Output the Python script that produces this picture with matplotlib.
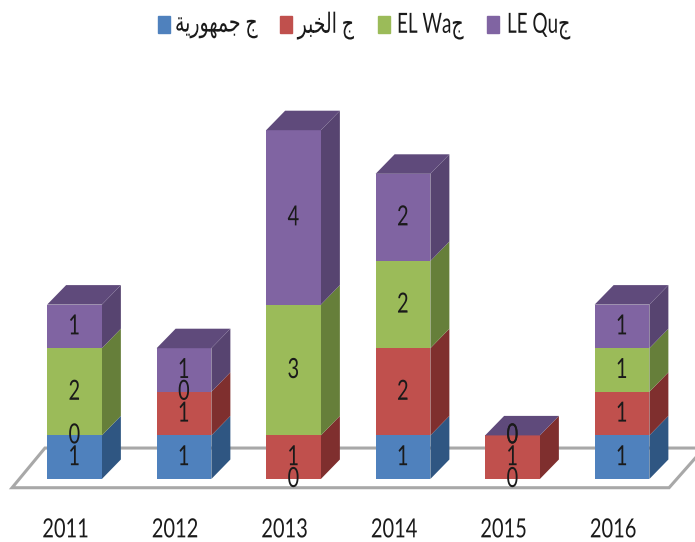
import numpy as np
import matplotlib
matplotlib.use('Agg')
import matplotlib.pyplot as plt
from matplotlib.patches import Polygon, Rectangle
from matplotlib.patheffects import AbstractPathEffect
from matplotlib.transforms import Affine2D

plt.rcParams['font.family'] = ['Lato', 'Liberation Sans', 'DejaVu Sans']

years = ['2011', '2012', '2013', '2014', '2015', '2016']
# arabic written in visual order with presentation forms, matplotlib does no shaping
series_names = ['\ufe94\ufef3\ufead\ufeee\ufeec\ufee4\ufe9f \ufe9d',
                '\ufeae\ufe92\ufea8\ufedf\ufe8d \ufe9d',
                'EL Wa\ufe9d',
                'LE Qu\ufe9d']
jomhouria = [1, 1, 0, 1, 0, 1]
khabar = [0, 1, 1, 2, 1, 1]
el_watan = [2, 0, 3, 2, 0, 1]
le_quotidien = [1, 1, 4, 2, 0, 1]

front_colors = ['#4F81BD', '#C0504D', '#9BBB59', '#8064A2']
side_colors = ['#2F5682', '#7F2F2E', '#667F3A', '#574470']
top_color = '#5F4A7B'
floor_color = '#A8A8A8'
text_color = '#1a1a1a'


class Condensed(AbstractPathEffect):
    '''squeeze a text sideways, matplotlib has no narrow face for it'''
    def __init__(self, sx, anchor='center'):
        super().__init__()
        self.sx = sx
        self.anchor = anchor

    def draw_path(self, renderer, gc, tpath, affine, rgbFace=None):
        xs = tpath.vertices[:, 0]
        if self.anchor == 'left':
            cx = xs.min()
        else:
            cx = (xs.min() + xs.max()) / 2
        squeeze = Affine2D().translate(-cx, 0).scale(self.sx, 1).translate(cx, 0)
        renderer.draw_path(gc, tpath, squeeze + affine, rgbFace)


fig = plt.figure(figsize=(6.95, 5.42), dpi=100)
# the axes stop above the year labels, 109.5 px per year and 43.6 px per unit
ax = fig.add_axes([0, 42 / 542, 1, 500 / 542])
ax.set_xlim(-74.5 / 109.5, (695 - 74.5) / 109.5)
ax.set_ylim(-21 / 43.6, 479 / 43.6)

bar_w = 0.5
dx = 19 / 109.5
dy = 19.5 / 43.6

# floor of the 3d chart, behind the bars
floor = Polygon([(-0.57, -0.2), (5.43, -0.2), (5.75, 0.71), (-0.27, 0.71)], closed=True,
                facecolor='white', edgecolor=floor_color, linewidth=2.2, zorder=1)
ax.add_patch(floor)

x = np.arange(len(years))
bottom = np.zeros(len(years))
all_series = [jomhouria, khabar, el_watan, le_quotidien]
for s, values in enumerate(all_series):
    values = np.array(values, dtype=float)
    for i in x:
        l = i - bar_w / 2
        r = i + bar_w / 2
        y0 = bottom[i]
        y1 = y0 + values[i]
        if values[i] > 0:
            ax.add_patch(Polygon([(r, y0), (r + dx, y0 + dy), (r + dx, y1 + dy), (r, y1)],
                                 closed=True, facecolor=side_colors[s], edgecolor='none', zorder=3 + s))
        ax.bar(i, values[i], bar_w, bottom=y0, color=front_colors[s], zorder=3 + s)
        # only the last series closes the stack
        if s == len(all_series) - 1:
            ax.add_patch(Polygon([(l, y1), (r, y1), (r + dx, y1 + dy), (l + dx, y1 + dy)],
                                 closed=True, facecolor=top_color, edgecolor='none', zorder=3 + s))
    bottom = bottom + values

# value labels go on last, zeros sit on the segment boundary
bottom = np.zeros(len(years))
for values in all_series:
    values = np.array(values, dtype=float)
    for i in x:
        ax.text(i, bottom[i] + values[i] / 2, '%d' % values[i], ha='center', va='center',
                fontsize=20, color=text_color, zorder=10, path_effects=[Condensed(0.72)])
    bottom = bottom + values

ax.set_xticks(x - 0.08)
ax.set_xticklabels(years, fontsize=19, color=text_color, path_effects=[Condensed(0.76)])
ax.tick_params(axis='x', length=0, pad=12.5)
ax.set_yticks([])
for sp in ax.spines.values():
    sp.set_visible(False)

# legend row laid out by hand, the squeezed labels would not fit ax.legend spacing
swatch_x = [158, 280, 378, 487]
label_x = [175, 298, 397, 507]
for c, n, sx, lx in zip(front_colors, series_names, swatch_x, label_x):
    fig.add_artist(Rectangle((sx / 695, 1 - 33 / 542), 12 / 695, 17 / 542, color=c,
                             transform=fig.transFigure))
    fig.text(lx / 695, 1 - 26 / 542, n, fontsize=20, color=text_color, ha='left', va='center',
             path_effects=[Condensed(0.68, 'left')])

fig.savefig('out.png', dpi=100)
